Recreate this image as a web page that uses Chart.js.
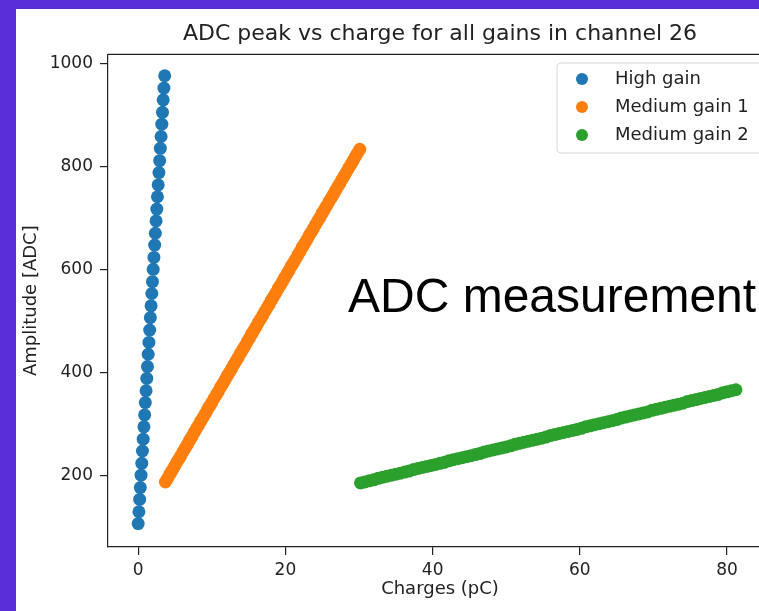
<!DOCTYPE html>
<html>
<head>
<meta charset="utf-8">
<script src="https://cdn.jsdelivr.net/npm/chart.js@4.4.1/dist/chart.umd.min.js"></script>
<style>
  html, body { margin: 0; padding: 0; }
  body { width: 759px; height: 611px; overflow: hidden; background: #5a2fd8; position: relative; }
  #panel { position: absolute; left: 16px; top: 9px; width: 800px; height: 602px; background: #fff; }
</style>
</head>
<body>
<div id="panel"><canvas id="chart" width="800" height="602"></canvas></div>
<script>
const seriesNames = ['High gain', 'Medium gain 1', 'Medium gain 2'];
const seriesColors = ['#1f77b4', '#ff7f0e', '#2ca02c'];

const xTicks = [0, 20, 40, 60, 80];
const yTicks = [200, 400, 600, 800, 1000];

// High gain
const highCharge = [
  0.00, 0.10, 0.20, 0.29, 0.39, 0.49, 0.58, 0.68, 0.78, 0.88,
  0.97, 1.07, 1.17, 1.26, 1.36, 1.46, 1.56, 1.65, 1.75, 1.85,
  1.94, 2.04, 2.14, 2.24, 2.33, 2.43, 2.53, 2.62, 2.72, 2.82,
  2.92, 3.01, 3.11, 3.21, 3.30, 3.40, 3.50, 3.60
];
const highAdc = [
  107, 130, 154, 177, 201, 224, 248, 271, 295, 318,
  342, 365, 389, 412, 436, 459, 483, 507, 530, 554,
  577, 601, 624, 648, 671, 695, 718, 742, 765, 789,
  812, 836, 859, 883, 906, 930, 953, 977
];

// Medium gain 1
const med1Charge = [
  3.7, 4.0, 4.3, 4.6, 4.9, 5.2, 5.5, 5.8, 6.1, 6.4,
  6.7, 7.0, 7.3, 7.6, 7.9, 8.2, 8.5, 8.8, 9.1, 9.4,
  9.7, 10.0, 10.3, 10.6, 10.9, 11.2, 11.5, 11.8, 12.1, 12.4,
  12.7, 13.0, 13.3, 13.6, 13.9, 14.2, 14.5, 14.8, 15.1, 15.4,
  15.7, 16.0, 16.3, 16.6, 16.9, 17.2, 17.5, 17.8, 18.1, 18.4,
  18.7, 19.0, 19.3, 19.6, 19.9, 20.2, 20.5, 20.8, 21.1, 21.4,
  21.7, 22.0, 22.3, 22.6, 22.9, 23.2, 23.5, 23.8, 24.1, 24.4,
  24.7, 25.0, 25.3, 25.6, 25.9, 26.2, 26.5, 26.8, 27.1, 27.4,
  27.7, 28.0, 28.3, 28.6, 28.9, 29.2, 29.5, 29.8, 30.1
];
const med1Adc = [
  188, 195, 203, 210, 217, 225, 232, 239, 247, 254,
  261, 269, 276, 284, 291, 298, 306, 313, 320, 328,
  335, 342, 350, 357, 364, 372, 379, 386, 394, 401,
  408, 416, 423, 430, 438, 445, 452, 460, 467, 475,
  482, 489, 497, 504, 511, 519, 526, 533, 541, 548,
  555, 563, 570, 577, 585, 592, 599, 607, 614, 621,
  629, 636, 644, 651, 658, 666, 673, 680, 688, 695,
  702, 710, 717, 724, 732, 739, 746, 754, 761, 768,
  776, 783, 790, 798, 805, 812, 820, 827, 834
];

// Medium gain 2
const med2Charge = [
  30.2, 30.8, 31.4, 32.0, 32.6, 33.2, 33.8, 34.4, 35.0, 35.6,
  36.2, 36.8, 37.4, 38.0, 38.6, 39.2, 39.8, 40.4, 41.0, 41.6,
  42.2, 42.8, 43.4, 44.0, 44.6, 45.2, 45.8, 46.4, 47.0, 47.6,
  48.2, 48.8, 49.4, 50.0, 50.6, 51.2, 51.8, 52.4, 53.0, 53.6,
  54.2, 54.8, 55.4, 56.0, 56.6, 57.2, 57.8, 58.4, 59.0, 59.6,
  60.2, 60.8, 61.4, 62.0, 62.6, 63.2, 63.8, 64.4, 65.0, 65.6,
  66.2, 66.8, 67.4, 68.0, 68.6, 69.2, 69.8, 70.4, 71.0, 71.6,
  72.2, 72.8, 73.4, 74.0, 74.6, 75.2, 75.8, 76.4, 77.0, 77.6,
  78.2, 78.8, 79.4, 80.0, 80.6, 81.2
];
const med2Adc = [
  186, 188, 190, 192, 195, 197, 199, 201, 203, 205,
  207, 209, 212, 214, 216, 218, 220, 222, 224, 226,
  229, 231, 233, 235, 237, 239, 241, 243, 246, 248,
  250, 252, 254, 256, 258, 261, 263, 265, 267, 269,
  271, 273, 275, 278, 280, 282, 284, 286, 288, 290,
  292, 295, 297, 299, 301, 303, 305, 307, 309, 312,
  314, 316, 318, 320, 322, 324, 327, 329, 331, 333,
  335, 337, 339, 341, 344, 346, 348, 350, 352, 354,
  356, 358, 361, 363, 365, 367
];

const toPoints = (xs, ys) => xs.map((x, i) => ({ x: x, y: ys[i] }));
const allSeries = [
  toPoints(highCharge, highAdc),
  toPoints(med1Charge, med1Adc),
  toPoints(med2Charge, med2Adc)
];

const ink = '#222';
Chart.defaults.font.family = "'DejaVu Sans', sans-serif";
Chart.defaults.color = ink;

// top/right spines, legend box and the overlaid caption
const extras = {
  id: 'extras',
  afterDraw(chart) {
    const { ctx, chartArea } = chart;
    ctx.save();
    ctx.strokeStyle = ink;
    ctx.lineWidth = 1.2;
    ctx.beginPath();
    ctx.moveTo(chartArea.left, chartArea.top);
    ctx.lineTo(chartArea.right, chartArea.top);
    ctx.lineTo(chartArea.right, chartArea.bottom);
    ctx.stroke();

    // legend
    const bx = 541, by = 54, bw = 208, bh = 90;
    ctx.beginPath();
    ctx.roundRect(bx, by, bw, bh, 4);
    ctx.fillStyle = 'rgba(255,255,255,0.8)';
    ctx.fill();
    ctx.strokeStyle = '#d6d6d6';
    ctx.lineWidth = 1;
    ctx.stroke();
    ctx.font = "18px 'DejaVu Sans'";
    ctx.textBaseline = 'middle';
    ctx.textAlign = 'left';
    chart.data.datasets.forEach((ds, i) => {
      const y = by + 16 + i * 28;
      ctx.beginPath();
      ctx.arc(bx + 25, y, 6, 0, Math.PI * 2);
      ctx.fillStyle = ds.backgroundColor;
      ctx.fill();
      ctx.fillStyle = ink;
      ctx.fillText(ds.label, bx + 58, y);
    });

    ctx.font = "48px 'Liberation Sans', Arial, sans-serif";
    ctx.fillStyle = '#000';
    ctx.textBaseline = 'alphabetic';
    ctx.fillText('ADC measurement', 332, 303);
    ctx.restore();
  }
};

const config = {
  type: 'scatter',
  data: {
    datasets: allSeries.map((pts, i) => ({
      label: seriesNames[i],
      data: pts,
      backgroundColor: seriesColors[i],
      borderWidth: 0,
      pointRadius: 6.5,
      pointHoverRadius: 6.5,
    })),
  },
  options: {
    responsive: false,
    animation: false,
    events: [],
    layout: { padding: { top: 0, left: 0, right: 44, bottom: 0 } },
    scales: {
      x: {
        type: 'linear',
        min: -4.1,
        max: 86.1,
        afterBuildTicks: (scale) => { scale.ticks = xTicks.map(v => ({ value: v })); },
        afterFit: (scale) => { scale.height = 64; },
        grid: { display: true, drawOnChartArea: false, drawTicks: true, tickLength: 8, color: ink, lineWidth: 1.2 },
        border: { display: true, color: ink, width: 1.2 },
        ticks: { font: { size: 17 }, color: ink, padding: 5, maxRotation: 0, callback: v => String(v) },
        title: { display: true, text: 'Charges (pC)', font: { size: 18 }, color: ink, padding: { top: 0, bottom: 11 } },
      },
      y: {
        type: 'linear',
        min: 61.5,
        max: 1018.5,
        afterBuildTicks: (scale) => { scale.ticks = yTicks.map(v => ({ value: v })); },
        afterFit: (scale) => { scale.width = 92; },
        grid: { display: true, drawOnChartArea: false, drawTicks: true, tickLength: 8, color: ink, lineWidth: 1.2 },
        border: { display: true, color: ink, width: 1.2 },
        ticks: { font: { size: 17 }, color: ink, padding: 7, callback: v => String(v) },
        title: { display: true, text: 'Amplitude [ADC]', font: { size: 18 }, color: ink, padding: { top: 5, bottom: 0 } },
      },
    },
    plugins: {
      legend: { display: false },
      tooltip: { enabled: false },
      title: {
        display: true,
        fullSize: false,
        text: 'ADC peak vs charge for all gains in channel 26',
        color: ink,
        font: { size: 22, weight: 'normal' },
        padding: { top: 12, bottom: 7 },
      },
    },
  },
  plugins: [extras],
};

new Chart(document.getElementById('chart'), config);
</script>
</body>
</html>
